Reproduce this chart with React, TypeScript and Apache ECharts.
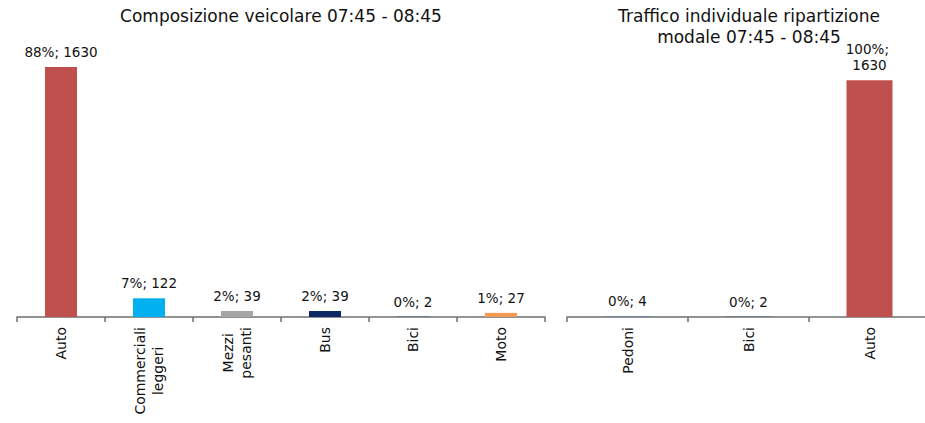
import React, { useEffect, useRef } from "react";
import * as echarts from "echarts";

const leftTitle = "Composizione veicolare 07:45 - 08:45";
const leftCategories = ["Auto", "Commerciali\nleggeri", "Mezzi\npesanti", "Bus", "Bici", "Moto"];
const leftValues = [1630, 122, 39, 39, 2, 27];
const leftColors = ["#C0504D", "#00B0F0", "#A6A6A6", "#0E2A66", "#1F497D", "#F39A55"];

const rightTitleLines = ["Traffico individuale ripartizione", "modale 07:45 - 08:45"];
const rightCategories = ["Pedoni", "Bici", "Auto"];
const rightValues = [4, 2, 1630];
const rightColors = ["#4F81BD", "#1F497D", "#C0504D"];

const FONT = "DejaVu Sans";

function pctLabel(values: number[]) {
  const total = values.reduce((a, b) => a + b, 0);
  return (p: any) => `${Math.round((p.value / total) * 100)}%; ${p.value}`;
}

function richCat(v: string) {
  return v
    .split("\n")
    .map((s) => `{c|${s}}`)
    .join("\n");
}

export default function App() {
  const ref = useRef<HTMLDivElement>(null);
  useEffect(() => {
    if (!ref.current) return;
    const chart = echarts.init(ref.current, null, { renderer: "svg" });
    const axisLabel = {
      rotate: 90,
      margin: 10,
      fontFamily: FONT,
      fontSize: 14,
      color: "#111",
      formatter: richCat,
      rich: { c: { align: "center", fontFamily: FONT, fontSize: 14, color: "#111", lineHeight: 18 } },
    };
    const axisLine = { show: true, lineStyle: { color: "#6F6F6F", width: 1.5 } };
    const axisTick = { show: true, length: 5, lineStyle: { color: "#6F6F6F", width: 1.5 } };
    const titleStyle = { fontFamily: FONT, fontSize: 17, fontWeight: "normal", color: "#111", lineHeight: 21 };
    chart.setOption({
      animation: false,
      title: [
        { text: leftTitle, left: 281, top: 5, padding: 0, textAlign: "center", textStyle: titleStyle },
        {
          text: rightTitleLines.map((s) => `{a|${s}}`).join("\n"),
          left: 749,
          top: 5,
          padding: 0,
          textAlign: "center",
          textStyle: { ...titleStyle, rich: { a: { ...titleStyle, align: "center" } } },
        },
      ],
      grid: [
        { left: 17, top: 41, width: 528, bottom: 106, containLabel: false },
        { left: 567, top: 41, width: 363, bottom: 106, containLabel: false },
      ],
      xAxis: [
        {
          type: "category",
          gridIndex: 0,
          data: leftCategories,
          axisLine,
          axisTick,
          axisLabel,
          splitLine: { show: false },
        },
        {
          type: "category",
          gridIndex: 1,
          data: rightCategories,
          axisLine,
          axisTick,
          axisLabel,
          splitLine: { show: false },
        },
      ],
      yAxis: [
        { type: "value", gridIndex: 0, min: 0, max: 1800, show: false, splitLine: { show: false } },
        { type: "value", gridIndex: 1, min: 0, max: 1900, show: false, splitLine: { show: false } },
      ],
      series: [
        {
          type: "bar",
          xAxisIndex: 0,
          yAxisIndex: 0,
          barWidth: 32,
          data: leftValues.map((v, i) => ({ value: v, itemStyle: { color: leftColors[i] } })),
          label: {
            show: true,
            position: "top",
            distance: 8,
            fontFamily: FONT,
            fontSize: 13.5,
            color: "#111",
            formatter: pctLabel(leftValues),
          },
        },
        {
          type: "bar",
          xAxisIndex: 1,
          yAxisIndex: 1,
          barWidth: 46,
          data: rightValues.map((v, i) => ({ value: v, itemStyle: { color: rightColors[i] } })),
          label: {
            show: true,
            position: "top",
            distance: 7,
            fontFamily: FONT,
            fontSize: 13.5,
            color: "#111",
            width: 50,
            overflow: "break",
            lineHeight: 16,
            align: "center",
            formatter: pctLabel(rightValues),
          },
        },
      ],
    });
    return () => chart.dispose();
  }, []);
  return (
    <div
      style={{
        position: "fixed",
        left: 0,
        top: 0,
        width: 925,
        height: 423,
        overflow: "hidden",
        background: "#fff",
      }}
    >
      <div ref={ref} style={{ width: 940, height: 423 }} />
    </div>
  );
}
